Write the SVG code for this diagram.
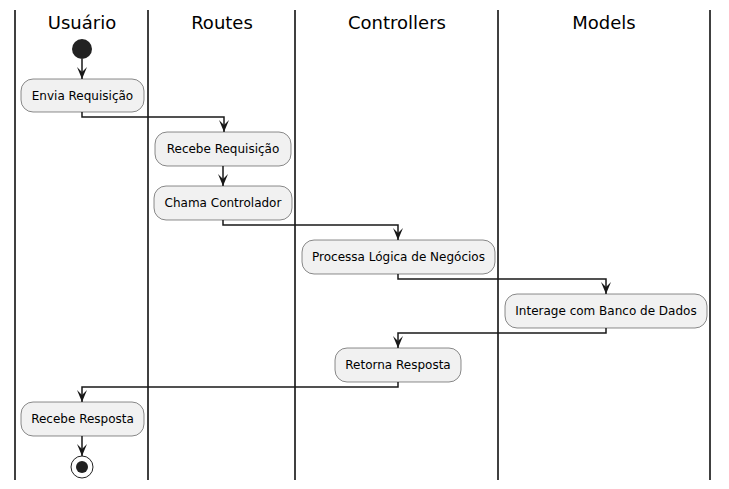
<svg xmlns="http://www.w3.org/2000/svg" width="729" height="489" viewBox="0 0 729 489">
<defs>
<marker id="ah" viewBox="0 0 12 10" refX="12" refY="5" markerWidth="12" markerHeight="10" markerUnits="userSpaceOnUse" orient="auto">
<polygon points="0,0 12,5 0,10 5,5" fill="#181818"/>
</marker>
</defs>
<style>
.lane{stroke:#000;stroke-width:1.5;fill:none}
.hdr{font-family:"DejaVu Sans",sans-serif;font-size:18px;fill:#000;text-anchor:middle}
.act rect{fill:#F1F1F1;stroke:#181818;stroke-width:0.5}
.act text{font-family:"DejaVu Sans",sans-serif;font-size:12px;fill:#000;text-anchor:middle}
.conn path{stroke:#181818;stroke-width:1.5;fill:none;marker-end:url(#ah)}
</style>
<rect width="729" height="489" fill="#fff"/>
<g id="lanes">
<line class="lane" x1="15" y1="10" x2="15" y2="480"/>
<line class="lane" x1="148" y1="10" x2="148" y2="480"/>
<line class="lane" x1="295" y1="10" x2="295" y2="480"/>
<line class="lane" x1="498" y1="10" x2="498" y2="480"/>
<line class="lane" x1="710" y1="10" x2="710" y2="480"/>
<text class="hdr" x="82" y="29">Usuário</text>
<text class="hdr" x="222" y="29">Routes</text>
<text class="hdr" x="397" y="29">Controllers</text>
<text class="hdr" x="604" y="29">Models</text>
</g>
<g id="start"><circle cx="82" cy="49" r="10" fill="#222"/></g>
<g id="n1" class="act"><rect x="21" y="79" width="123" height="33" rx="12"/><text x="82.5" y="100">Envia Requisição</text></g>
<g id="n2" class="act"><rect x="155" y="132" width="136" height="34" rx="12"/><text x="223" y="153">Recebe Requisição</text></g>
<g id="n3" class="act"><rect x="154" y="186" width="138" height="34" rx="12"/><text x="223" y="207">Chama Controlador</text></g>
<g id="n4" class="act"><rect x="302" y="240" width="193" height="34" rx="12"/><text x="398.5" y="261">Processa Lógica de Negócios</text></g>
<g id="n5" class="act"><rect x="505" y="294" width="202" height="34" rx="12"/><text x="606" y="315">Interage com Banco de Dados</text></g>
<g id="n6" class="act"><rect x="335" y="348" width="126" height="34" rx="12"/><text x="398" y="369">Retorna Resposta</text></g>
<g id="n7" class="act"><rect x="21" y="402" width="123" height="34" rx="12"/><text x="82.5" y="423">Recebe Resposta</text></g>
<g id="end"><circle cx="82" cy="467" r="11" fill="none" stroke="#222" stroke-width="1"/><circle cx="82" cy="467" r="6" fill="#222"/></g>
<g id="connectors" class="conn">
<path d="M82,59 V79"/>
<path d="M82,112 V117 H224 V132"/>
<path d="M223,166 V186"/>
<path d="M223,220 V225 H398 V240"/>
<path d="M398,274 V279 H606 V294"/>
<path d="M606,328 V333 H398 V348"/>
<path d="M398,382 V387 H82 V402"/>
<path d="M82,436 V456"/>
</g>
</svg>
